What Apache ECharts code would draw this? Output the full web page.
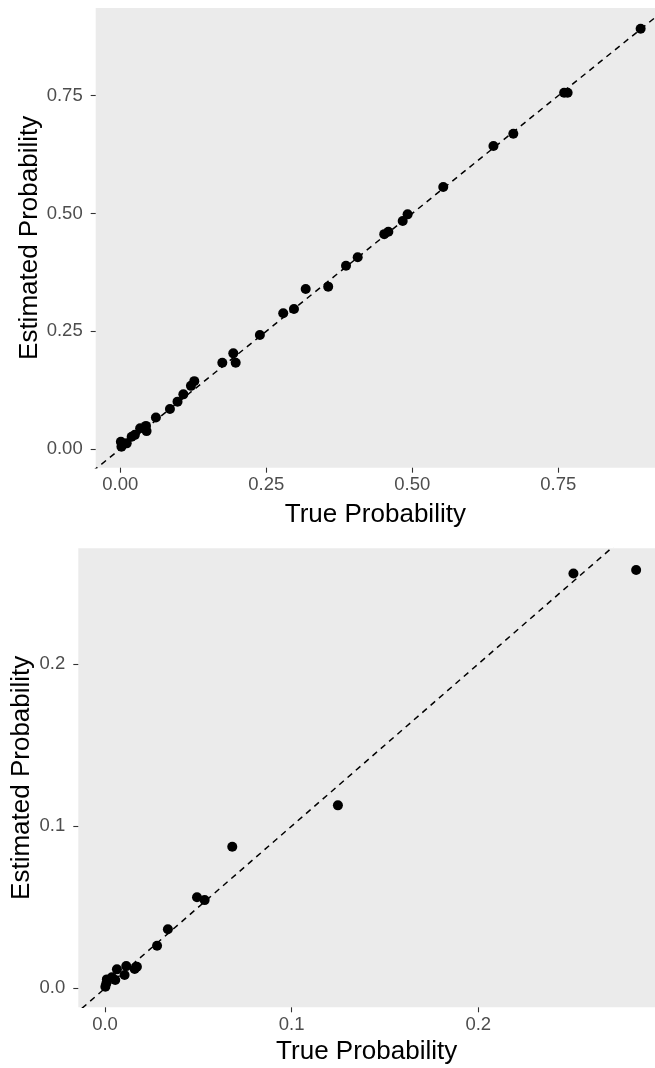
<!DOCTYPE html>
<html>
<head>
<meta charset="utf-8">
<script src="https://cdn.jsdelivr.net/npm/echarts@6/dist/echarts.min.js"></script>
<style>
  html, body { margin: 0; padding: 0; background: #fff; }
  #chart { width: 655px; height: 1068px; }
</style>
</head>
<body>
<div id="chart"></div>
<script>
// 上图: 真实概率 vs 估计概率
const topTrue = [0.891, 0.760, 0.766, 0.673, 0.639, 0.553, 0.492, 0.4836, 0.459, 0.452,
    0.4065, 0.3865, 0.356, 0.3175, 0.2974, 0.279, 0.239, 0.1935, 0.1976, 0.1747,
    0.1267, 0.121, 0.108, 0.098, 0.085, 0.061, 0.045, 0.044, 0.034, 0.025,
    0.0195, 0.011, 0.001, 0.002];
const topEst = [0.892, 0.756, 0.756, 0.669, 0.643, 0.556, 0.498, 0.484, 0.461, 0.456,
    0.407, 0.389, 0.3446, 0.3397, 0.297, 0.288, 0.242, 0.203, 0.183, 0.183,
    0.144, 0.134, 0.116, 0.1005, 0.085, 0.067, 0.038, 0.049, 0.044, 0.030,
    0.026, 0.012, 0.0155, 0.005];

// 下图
const bottomTrue = [0.251, 0.2846, 0.1248, 0.0682, 0.0493, 0.0534, 0.0337, 0.0279, 0.0171, 0.0159,
    0.0114, 0.0105, 0.0064, 0.0055, 0.001, 0.0002, 0.0007, 0.0037];
const bottomEst = [0.2558, 0.2579, 0.1128, 0.0873, 0.0561, 0.0544, 0.0364, 0.0263, 0.0133, 0.0119,
    0.0137, 0.0082, 0.0117, 0.0051, 0.0055, 0.001, 0.003, 0.0068];

// 坐标轴刻度
const topTicks = [0, 0.25, 0.5, 0.75];
const topTickLabels = ['0.00', '0.25', '0.50', '0.75'];
const bottomTicks = [0, 0.1, 0.2];
const bottomTickLabels = ['0.0', '0.1', '0.2'];

// y = x 参考线 (两端会被裁剪)
const abline = [-1, 2];

const FONT = 'Liberation Sans, Arial, sans-serif';

function labelFor(ticks, labels) {
    return function(v) {
        const i = ticks.findIndex(t => Math.abs(t - v) < 1e-9);
        return i >= 0 ? labels[i] : '';
    };
}

function makeAxis(gridIndex, name, min, max, ticks, labels, isY, nameGap) {
    return {
        type: 'value',
        gridIndex: gridIndex,
        min: min,
        max: max,
        name: name,
        nameLocation: 'middle',
        nameGap: nameGap,
        nameMoveOverlap: false,
        nameRotate: isY ? 90 : 0,
        nameTextStyle: { color: '#000', fontSize: 26, fontFamily: FONT },
        axisLine: { show: false, onZero: false },
        splitLine: { show: false },
        axisTick: {
            show: true,
            length: 5,
            customValues: ticks,
            lineStyle: { color: '#333', width: 1.1 }
        },
        axisLabel: {
            customValues: ticks,
            formatter: labelFor(ticks, labels),
            color: '#4D4D4D',
            fontSize: 18.5,
            fontFamily: FONT,
            margin: isY ? 13 : 8
        }
    };
}

const chart = echarts.init(document.getElementById('chart'));

const option = {
    animation: false,
    backgroundColor: '#fff',
    grid: [
        { left: 95.7, top: 8, right: 0, height: 459.7, outerBoundsMode: 'none', containLabel: false,
          show: true, backgroundColor: '#EBEBEB', borderWidth: 0 },
        { left: 78.3, top: 548.3, right: 0, height: 459, outerBoundsMode: 'none', containLabel: false,
          show: true, backgroundColor: '#EBEBEB', borderWidth: 0 }
    ],
    xAxis: [
        makeAxis(0, 'True Probability', -0.0421, 0.9156, topTicks, topTickLabels, false, 34),
        makeAxis(1, 'True Probability', -0.0143, 0.2947, bottomTicks, bottomTickLabels, false, 32)
    ],
    yAxis: [
        makeAxis(0, 'Estimated Probability', -0.0397, 0.936, topTicks, topTickLabels, true, 53),
        makeAxis(1, 'Estimated Probability', -0.0117, 0.2713, bottomTicks, bottomTickLabels, true, 43)
    ],
    series: [
        {
            type: 'scatter',
            xAxisIndex: 0, yAxisIndex: 0,
            symbolSize: 10,
            itemStyle: { color: '#000', opacity: 1 },
            data: topTrue.map((x, i) => [x, topEst[i]])
        },
        {
            type: 'line',
            xAxisIndex: 0, yAxisIndex: 0,
            symbol: 'none',
            clip: true,
            lineStyle: { color: '#000', width: 1.5, type: [6, 5] },
            data: abline.map(v => [v, v])
        },
        {
            type: 'scatter',
            xAxisIndex: 1, yAxisIndex: 1,
            symbolSize: 10,
            itemStyle: { color: '#000', opacity: 1 },
            data: bottomTrue.map((x, i) => [x, bottomEst[i]])
        },
        {
            type: 'line',
            xAxisIndex: 1, yAxisIndex: 1,
            symbol: 'none',
            clip: true,
            lineStyle: { color: '#000', width: 1.5, type: [6, 5] },
            data: abline.map(v => [v, v])
        }
    ]
};

chart.setOption(option);
</script>
</body>
</html>
